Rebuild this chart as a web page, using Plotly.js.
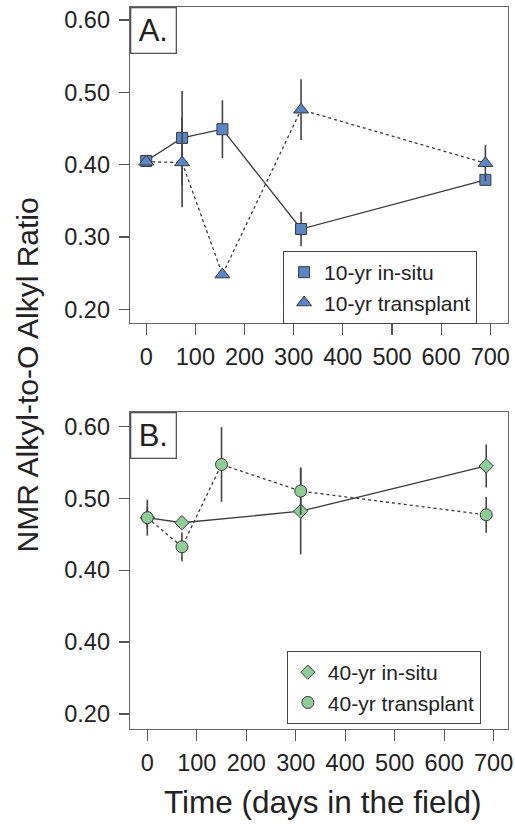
<!DOCTYPE html>
<html>
<head>
<meta charset="utf-8">
<script src="https://cdn.plot.ly/plotly-3.0.1.min.js"></script>
<style>html,body{margin:0;padding:0;background:#fff;}#chart{width:515px;height:825px;}</style>
</head>
<body>
<div id="chart"></div>
<script>
// Panel A: 10-yr plots
const daysA = [0, 73, 155, 315, 690];
const insitu10 = [0.405, 0.437, 0.449, 0.311, 0.379];
const insitu10Err = [0.005, 0.065, 0.040, 0.024, 0.008];
const transplant10 = [0.404, 0.403, 0.248, 0.476, 0.402];
const transplant10Err = [0.004, 0.062, 0.005, 0.042, 0.025];

// Panel B: 40-yr plots
const daysInsitu40 = [0, 70, 310, 685];
const insitu40 = [0.473, 0.466, 0.482, 0.545];
const insitu40Err = [0.015, 0.008, 0.060, 0.030];
const daysTransplant40 = [0, 70, 150, 310, 685];
const transplant40 = [0.473, 0.4325, 0.547, 0.510, 0.477];
const transplant40Err = [0.025, 0.020, 0.052, 0.033, 0.025];

const xTickVals = [0, 100, 200, 300, 400, 500, 600, 700];
const yTickValsA = [0.2, 0.3, 0.4, 0.5, 0.6];
const yTickTextA = ['0.20', '0.30', '0.40', '0.50', '0.60'];
const yTickValsB = [0.2, 0.3, 0.4, 0.5, 0.6];
const yTickTextB = ['0.20', '0.40', '0.40', '0.50', '0.60'];

const legendA = ['10-yr in-situ', '10-yr transplant'];
const legendB = ['40-yr in-situ', '40-yr transplant'];

const FONT = 'Liberation Sans, Arial, Helvetica, sans-serif';
const blue = '#5b86c6';
const green = '#8fcc97';
const edge = '#3a3a3a';
const lineCol = '#3a3a3a';
const errCol = '#444444';

function lineTrace(x, y, dash, xa, ya) {
  return {x: x, y: y, xaxis: xa, yaxis: ya, type: 'scatter', mode: 'lines',
    line: {color: lineCol, width: 1.3, dash: dash}, showlegend: false, hoverinfo: 'skip'};
}
function markTrace(x, y, err, name, sym, size, col, xa, ya, leg) {
  return {x: x, y: y, xaxis: xa, yaxis: ya, type: 'scatter', mode: 'markers', name: name,
    legend: leg,
    error_y: {type: 'data', array: err, visible: true, color: errCol, thickness: 1.6, width: 0},
    marker: {symbol: sym, size: size, color: col, line: {color: edge, width: 1}}};
}

const data = [
  lineTrace(daysA, insitu10, 'solid', 'x', 'y'),
  lineTrace(daysA, transplant10, 'dot', 'x', 'y'),
  markTrace(daysA, insitu10, insitu10Err, legendA[0], 'square', 11, blue, 'x', 'y', 'legend'),
  markTrace(daysA, transplant10, transplant10Err, legendA[1], 'triangle-up', 13, blue, 'x', 'y', 'legend'),
  lineTrace(daysInsitu40, insitu40, 'solid', 'x2', 'y2'),
  lineTrace(daysTransplant40, transplant40, 'dot', 'x2', 'y2'),
  markTrace(daysInsitu40, insitu40, insitu40Err, legendB[0], 'diamond', 11, green, 'x2', 'y2', 'legend2'),
  markTrace(daysTransplant40, transplant40, transplant40Err, legendB[1], 'circle', 12, green, 'x2', 'y2', 'legend2')
];

function xAxis(range, domain, anchor) {
  return {range: range, domain: [0, 1], anchor: anchor, tickvals: xTickVals,
    ticks: 'outside', ticklen: 11, tickwidth: 1.3, tickcolor: '#555',
    showline: true, mirror: true, linecolor: '#666', linewidth: 1.3,
    showgrid: false, zeroline: false, ticklabelstandoff: 1,
    tickfont: {family: FONT, size: 23.5, color: '#222'}};
}
function yAxis(domain, anchor, tv, tt) {
  return {range: [0.181, 0.618], domain: domain, anchor: anchor, tickvals: tv, ticktext: tt,
    ticks: 'outside', ticklen: 10, tickwidth: 1.3, tickcolor: '#555',
    showline: true, mirror: true, linecolor: '#666', linewidth: 1.3,
    showgrid: false, zeroline: false, ticklabelstandoff: 4,
    tickfont: {family: FONT, size: 23.5, color: '#222'}};
}

const legendCommon = {bgcolor: '#fff', bordercolor: '#444', borderwidth: 1,
  font: {family: FONT, size: 21, color: '#222'}, xanchor: 'left', yanchor: 'top',
  xref: 'paper', yref: 'paper', traceorder: 'normal', itemwidth: 30};

const layout = {
  width: 515, height: 825,
  margin: {l: 130, r: 7, t: 7, b: 96},
  paper_bgcolor: '#fff', plot_bgcolor: '#fff',
  font: {family: FONT, color: '#222'},
  xaxis: xAxis([-33, 736], [0, 1], 'y'),
  yaxis: yAxis([0.5623, 1], 'x', yTickValsA, yTickTextA),
  xaxis2: xAxis([-35, 729], [0, 1], 'y2'),
  yaxis2: Object.assign(yAxis([0, 0.439], 'x2', yTickValsB, yTickTextB), {range: [0.179, 0.620]}),
  legend: Object.assign({}, legendCommon, {x: 0.405, y: 0.662}),
  legend2: Object.assign({}, legendCommon, {x: 0.415, y: 0.108}),
  annotations: [
    {text: 'A.', xref: 'x domain', yref: 'y domain', x: 0, y: 1, xanchor: 'left', yanchor: 'top',
     showarrow: false, font: {family: FONT, size: 31, color: '#222'}, bordercolor: '#555',
     borderwidth: 1.3, borderpad: 2, width: 40, height: 40, bgcolor: '#fff'},
    {text: 'B.', xref: 'x2 domain', yref: 'y2 domain', x: 0, y: 1, xanchor: 'left', yanchor: 'top',
     showarrow: false, font: {family: FONT, size: 31, color: '#222'}, bordercolor: '#555',
     borderwidth: 1.3, borderpad: 2, width: 40, height: 40, bgcolor: '#fff'},
    {text: 'Time (days in the field)', xref: 'paper', yref: 'paper', x: 0.508, y: -0.101,
     xanchor: 'center', yanchor: 'middle', showarrow: false,
     font: {family: FONT, size: 31.5, color: '#222'}},
    {text: 'NMR Alkyl-to-O Alkyl Ratio', xref: 'paper', yref: 'paper', x: -0.272, y: 0.49,
     xanchor: 'center', yanchor: 'middle', showarrow: false, textangle: -90,
     font: {family: FONT, size: 30, color: '#222'}}
  ]
};

Plotly.newPlot('chart', data, layout, {displayModeBar: false, staticPlot: true});
</script>
</body>
</html>
